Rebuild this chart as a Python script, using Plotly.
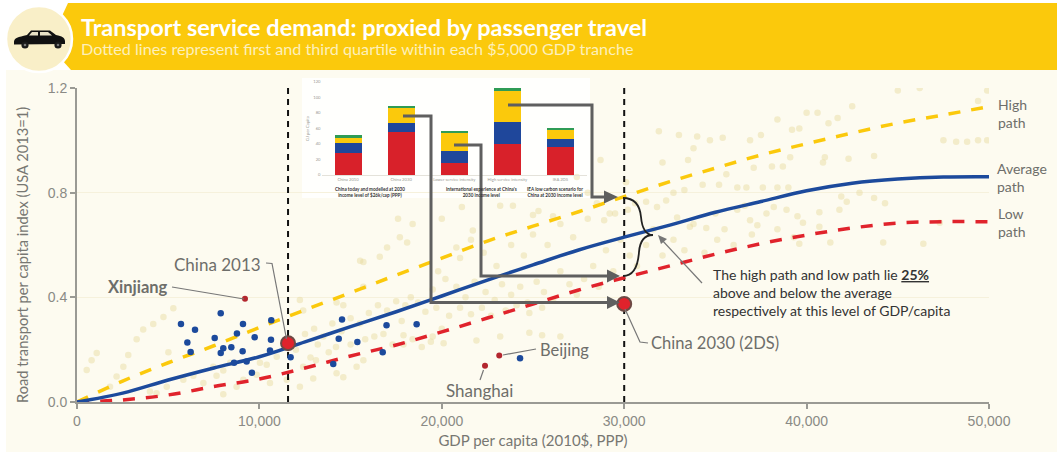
import plotly.graph_objects as go

W, H = 1057, 454

# ---- main chart data ----
path_gdp = [0, 2500, 5000, 7500, 10000, 12500, 15000, 17500, 20000, 22500, 25000,
            27500, 30000, 32500, 35000, 37500, 40000, 42500, 45000, 47500, 50000]
high_path = [0, .08, .15, .215, .285, .352, .418, .485, .55, .615, .672,
             .727, .785, .842, .894, .944, .987, 1.028, 1.066, 1.097, 1.129]
average_path = [0, .034, .084, .13, .173, .23, .288, .345, .405, .466, .524,
                .581, .63, .676, .725, .766, .807, .836, .852, .86, .861]
low_path = [0, .008, .027, .059, .088, .13, .176, .218, .268, .321, .374,
            .428, .475, .52, .565, .605, .638, .665, .684, .689, .689]

province_gdp = [5700, 6470, 7880, 9100, 10650, 8770, 7550, 9740, 10635, 6050, 6230, 8020,
                8460, 7880, 9080, 10580, 8610, 9300, 9590, 11710, 14530, 14350, 15370,
                14050, 16970, 18620, 16760, 24290]
province_index = [.298, .276, .339, .298, .312, .262, .245, .247, .238, .227, .191, .205,
                  .209, .187, .194, .197, .150, .155, .112, .171, .315, .242, .229,
                  .145, .293, .297, .190, .167]
named_gdp = [9210, 23150, 22370]
named_index = [.395, .178, .139]
china_gdp = [11570, 30000]
china_index = [.225, .375]
marker_gdp = [11570, 30000]

pale_gdp = [45000, 46200, 49900, 49400, 42500, 40000, 40600, 38400, 41700, 41200, 39200, 39600,
            37500, 31900, 33000, 34000, 34700, 35400, 36900, 47500, 48200, 48800, 49400, 49900,
            33800, 33500, 32100, 28700, 41000, 40900, 42300, 43700, 39100, 38100, 38700, 37100,
            35600, 34300, 36200, 36700, 37600, 38400, 39000, 32700, 33300, 35200,
            41900, 42200, 42900, 43700, 44300, 41800, 40700, 39500, 38900, 38200, 36900, 37300,
            36200, 39800, 40700, 38400, 39300, 41300, 44200, 46400, 47300, 39600, 35100, 34500,
            33600, 32900, 31800, 31200, 28900, 29500, 30200, 30600, 32300,
            19500, 20200, 20800, 21300, 21800, 22400, 22900, 23300, 23800, 24300, 24700, 25200,
            25600, 26100, 26500, 27000, 27400, 27800, 28300, 28600, 29000, 29400, 29800, 30300,
            30700, 31200, 31600, 32100, 32700, 33300, 33800, 34400, 35000, 35500, 36000, 36600,
            37000, 37800, 18700, 19100, 19700, 20400, 21000, 21600, 22200, 22700, 23500, 24100,
            24800, 25500, 16000, 16500, 17000, 17500, 18000, 18300, 15000, 15500, 13000, 13500,
            14000, 14500, 12500, 12000, 12800, 13200, 13800, 14200, 15000, 15800, 16300, 16800,
            17300, 17900, 18400, 18900, 19500, 20000, 17800, 21000, 21600, 22300, 23000, 23800,
            24500, 25000, 25800, 26500, 27200, 28000, 20800, 19800, 26100, 25300, 28500, 29200,
            30100, 28000, 27400, 15700, 16600, 17000, 17600, 18400, 17700, 18100, 20000, 21100,
            21700, 23200, 23900, 25000, 17900, 19400, 20100, 21900, 23200, 24800, 25500, 26500,
            530, 800, 1080, 1810, 2170, 2540, 2810, 3270, 3630, 4180, 4740, 5280, 4360, 4000,
            4920, 5830, 6380, 6930, 7650, 8020, 8020, 8750, 9120, 9850, 10400, 10950, 10580,
            11500, 12400, 13100, 12220, 12950, 14230, 14600, 15330, 15700, 15700, 15520, 14230,
            14600, 12220, 12400, 5010, 7470, 8400, 10030]
pale_index = [1.19, 1.2, 1.19, 1.15, 1.13, 1.105, 1.105, 1.08, 1.085, 1.065, 1.04, 1.045,
              1.02, 1.035, 1.02, 1.015, 1.0, 1.01, 1.0, 1.0, .995, .995, 1.0, 1.0,
              .97, .925, .915, .925, .935, .915, .93, .94, .935, .9, .9, .895,
              .87, .83, .82, .82, .82, .82, .82, .8, .81, .83,
              .785, .765, .8, .78, .76, .735, .725, .71, .735, .745, .695, .675,
              .735, .685, .67, .66, .63, .61, .61, .605, .685, .605, .62, .665,
              .67, .705, .745, .765, .695, .72, .735, .76, .77,
              .43, .47, .44, .40, .46, .42, .39, .45, .41, .44, .38, .46,
              .42, .39, .50, .45, .41, .47, .52, .44, .58, .50, .62, .56,
              .52, .60, .66, .56, .62, .58, .68, .57, .72, .66, .60, .75,
              .64, .72, .38, .345, .36, .33, .36, .335, .36, .33, .35, .37,
              .34, .36, .34, .37, .35, .385, .37, .40, .32, .30, .28, .25,
              .30, .27, .26, .20, .17, .22, .19, .21, .22, .24, .25, .26,
              .22, .22, .24, .21, .25, .28, .31, .55, .62, .57, .52, .60,
              .56, .64, .60, .68, .63, .70, .59, .50, .71, .73, .76, .72,
              .84, .80, .86, .535, .555, .59, .70, .68, .63, .61, .70, .745,
              .655, .75, .75, .715, .255, .23, .225, .235, .25, .265, .255, .25,
              .122, .16, .187, .058, .097, .135, .18, .24, .277, .298, .325, .358, .033, .04,
              .058, .085, .10, .073, .10, .12, .03, .058, .085, .104, .142, .173, .073,
              .085, .135, .16, .058, .09, .11, .095, .135, .16, .44, .54, .38,
              .37, .39, .35, .19, .135, .15, .15]

y_ticks = [0, .4, .8, 1.2]
x_ticks = [0, 10000, 20000, 30000, 40000, 50000]

# ---- inset data ----
inset_categories = ["China 2010", "China 2030", "Lower service intensity", "High service intensity", "IEA 2DS"]
inset_red = [29, 55, 16, 40, 36]
inset_blue = [12, 12, 15, 29, 11]
inset_yellow = [8, 19, 23, 39, 11]
inset_green = [2, 3, 3, 4, 3]

YELLOW = "#fbc90c"
BLUE = "#1c4a9c"
RED = "#e0232c"
GREY = "#5f5f5f"
TXT = "#6e6e6a"
CREAM = "#fdfbf0"
FONT = "Lato, sans-serif"


def fx(px):
    return px / W


def fy(py):
    return 1 - py / H


def path(*cmds):
    """Decoration path given in page pixels: ('M',x,y), ('L',x,y), ('C',x1,y1,x2,y2,x,y), ('Z',)."""
    out = []
    for c in cmds:
        vals = []
        for i, v in enumerate(c[1:]):
            vals.append(f"{fx(v) if i % 2 == 0 else fy(v):.5f}")
        out.append(c[0] + " " + " ".join(vals))
    return " ".join(out)


def deco(d, fill=None, line=None, width=0, layer="above"):
    s = dict(type="path", xref="paper", yref="paper", path=d, layer=layer,
             line=dict(color=line or "rgba(0,0,0,0)", width=width))
    if fill:
        s["fillcolor"] = fill
    return s


def poly(pts, close=False, **kw):
    cmds = [("M", *pts[0])] + [("L", *p) for p in pts[1:]]
    if close:
        cmds.append(("Z",))
    return deco(path(*cmds), **kw)


def circle(cx, cy, r, fill, line=None, width=0, layer="above"):
    return dict(type="circle", xref="paper", yref="paper", x0=fx(cx - r), x1=fx(cx + r),
                y0=fy(cy + r), y1=fy(cy - r), fillcolor=fill, layer=layer,
                line=dict(color=line or "rgba(0,0,0,0)", width=width))


def rect(x0, y0, x1, y1, fill, layer="below"):
    return dict(type="rect", xref="paper", yref="paper", x0=fx(x0), x1=fx(x1), y0=fy(y1), y1=fy(y0),
                fillcolor=fill, layer=layer, line=dict(width=0))


def label(text, px, py, size=14, color=TXT, anchor="left", family=FONT):
    return dict(text=text, x=fx(px), y=fy(py), xref="paper", yref="paper", showarrow=False,
                xanchor=anchor, yanchor="middle", align=anchor,
                font=dict(size=size, color=color, family=family))


fig = go.Figure()

# pale background cloud
fig.add_trace(go.Scatter(x=pale_gdp, y=pale_index, mode="markers", hoverinfo="skip",
                         marker=dict(size=6.5, color="#e6da9c", opacity=0.45, line=dict(width=0))))

# vertical reference lines
for g in marker_gdp:
    fig.add_trace(go.Scatter(x=[g, g], y=[0, 1.2], mode="lines", hoverinfo="skip",
                             line=dict(color="#111111", width=2, dash="6px,5px")))

# paths
fig.add_trace(go.Scatter(x=path_gdp, y=high_path, mode="lines", name="High path",
                         line=dict(color=YELLOW, width=3.5, dash="12px,11px", shape="spline")))
fig.add_trace(go.Scatter(x=path_gdp, y=low_path, mode="lines", name="Low path",
                         line=dict(color=RED, width=3.5, dash="12px,11px", shape="spline")))
fig.add_trace(go.Scatter(x=path_gdp, y=average_path, mode="lines", name="Average path",
                         line=dict(color=BLUE, width=3.5, shape="spline")))

# provinces
fig.add_trace(go.Scatter(x=province_gdp, y=province_index, mode="markers",
                         marker=dict(size=6.5, color=BLUE, line=dict(width=0))))
fig.add_trace(go.Scatter(x=named_gdp, y=named_index, mode="markers",
                         marker=dict(size=6, color="#b3262e", line=dict(width=0))))
fig.add_trace(go.Scatter(x=china_gdp, y=china_index, mode="markers",
                         marker=dict(size=14, color=RED, line=dict(color="#6d4a45", width=2))))

# inset
for vals, col in [(inset_red, "#d8212a"), (inset_blue, "#1f479b"),
                  (inset_yellow, "#fbc90c"), (inset_green, "#2f9c55")]:
    fig.add_trace(go.Bar(x=inset_categories, y=vals, marker=dict(color=col, line=dict(width=0)),
                         xaxis="x2", yaxis="y2", width=0.51))

shapes = [
    rect(0, 0, W, H, "#ffffff"),
    rect(6, 70, W, 452, CREAM),
    rect(302, 78, 590, 198, "#fffffd"),
    # banner
    poly([(68, 3), (W, 3), (W, 70), (71, 70), (62, 60), (62, 16)], close=True, fill=YELLOW, layer="below"),
    circle(39, 39, 33, "#f9efc8", line="#ffffff", width=2.5, layer="above"),
    # car
    deco(path(("M", 14, 42), ("C", 14, 38, 18, 37, 27, 35), ("L", 31, 30.5), ("L", 50, 30.5),
              ("L", 56, 35), ("C", 62, 36, 65, 38, 65, 41), ("L", 65, 44), ("L", 14, 44.5), ("Z",)),
         fill="#111111"),
    poly([(32, 32), (38, 32), (38, 35.5), (29, 35.5)], close=True, fill="#e9e2c6"),
    poly([(40, 32), (48, 32), (52, 35.5), (40, 35.5)], close=True, fill="#e9e2c6"),
    circle(25, 45, 3.6, "#1a1a1a"),
    circle(58, 45, 3.6, "#1a1a1a"),
    circle(25, 45, 1.3, "#777777"),
    circle(58, 45, 1.3, "#777777"),
    # inset elbow arrows
    poly([(403, 116), (431, 116), (431, 302.5), (611, 302.5)], line=GREY, width=3),
    poly([(454, 145), (481, 145), (481, 276), (611, 276)], line=GREY, width=3),
    poly([(508, 105), (592, 105), (592, 197), (608, 197)], line=GREY, width=3),
    poly([(607, 296), (620, 302.5), (607, 309)], close=True, fill=GREY),
    poly([(607, 269.5), (620, 276), (607, 282.5)], close=True, fill=GREY),
    poly([(604, 190.5), (618, 197), (604, 203.5)], close=True, fill=GREY),
    # brace
    deco(path(("M", 623, 198), ("C", 635, 198, 640, 206, 641, 217), ("C", 642, 228, 645, 235, 653, 235),
              ("C", 645, 235, 640, 240, 639, 252), ("C", 638, 266, 633, 276, 623, 276)),
         line="#222222", width=1.8),
    # leader lines
    poly([(172, 287), (244, 299)], line="#777777", width=1.2),
    poly([(266, 263), (272, 263.5), (286.5, 339)], line="#777777", width=1.2),
    poly([(503, 355), (536, 349)], line="#777777", width=1.2),
    poly([(483.5, 370), (480, 380)], line="#777777", width=1.2),
    poly([(625, 309), (640, 342), (648, 343)], line="#777777", width=1.2),
    poly([(702, 283), (661, 239)], line="#777777", width=1.2),
    poly([(658, 235), (667, 239), (661, 244)], close=True, fill="#777777"),
]

y_title = label("Road transport per capita index (USA 2013=1)", 22, 255, size=14.7, color="#777772", anchor="center")
y_title["textangle"] = -90

annotations = [
    label("<b>Transport service demand: proxied by passenger travel</b>", 79, 27, size=23.5, color="#ffffff"),
    label("Dotted lines represent first and third quartile within each $5,000 GDP tranche", 79, 48, size=16.2, color="#fdf0bb"),
    label("High<br>path", 996, 113, size=14),
    label("Average<br>path", 995, 177, size=14),
    label("Low<br>path", 996, 223, size=14),
    label("China 2013", 172, 264, size=17),
    label("<b>Xinjiang</b>", 106, 287, size=16.5),
    label("Beijing", 538, 350, size=16.5),
    label("Shanghai", 444, 390, size=17),
    label("China 2030 (2DS)", 649, 343, size=16.5),
    label("The high path and low path lie <b><u>25%</u></b><br>above and below the average<br>respectively at this level of GDP/capita",
          711, 292, size=14, color="#333333"),
    label("<b>China today and modelled at 2030<br>income level of $26k/cap (PPP)</b>", 370, 192, size=4.6, color="#333333", anchor="center"),
    label("<b>International experience at China's<br>2030 income level</b>", 481, 192, size=4.6, color="#333333", anchor="center"),
    label("<b>IEA low carbon scenario for<br>China at 2030 income level</b>", 555, 192, size=4.6, color="#333333", anchor="center"),
    y_title,
]

axis_line = dict(showline=True, linecolor="#9a9a94", linewidth=2, ticks="outside", ticklen=5,
                 tickcolor="#9a9a94", tickwidth=1.5, automargin=False,
                 tickfont=dict(size=14, color="#8a8a85", family="Liberation Sans, sans-serif"),
                 zeroline=False)

fig.update_layout(
    template="none",
    width=W, height=H, autosize=False,
    margin=dict(l=0, r=0, t=0, b=0, pad=0),
    paper_bgcolor="#ffffff", plot_bgcolor="rgba(0,0,0,0)",
    showlegend=False, barmode="stack",
    shapes=shapes, annotations=annotations,
    xaxis=dict(domain=[fx(77), fx(989)], range=[0, 50000], tickvals=x_ticks, tickformat=",d",
               showgrid=False,
               title=dict(text="GDP per capita (2010$, PPP)", standoff=8,
                          font=dict(size=15, color="#777772", family=FONT)), **axis_line),
    yaxis=dict(domain=[fy(402), fy(88)], range=[0, 1.2], tickvals=y_ticks, tickformat=".1f",
               showgrid=True, gridcolor="#f6f1dc", gridwidth=1, **axis_line),
    xaxis2=dict(domain=[fx(321.5), fx(587)], anchor="y2", showline=True, linecolor="#e4e2da", linewidth=1,
                ticks="", tickfont=dict(size=4.2, color="#9a9a94", family=FONT), showgrid=False,
                fixedrange=True, automargin=False),
    yaxis2=dict(domain=[fy(175), fy(82)], anchor="x2", range=[0, 120], tickvals=[0, 20, 40, 60, 80, 100, 120],
                showline=False, ticks="", showgrid=False, zeroline=False, automargin=False,
                tickfont=dict(size=4.2, color="#9a9a94", family=FONT),
                title=dict(text="GJ per Capita", font=dict(size=4.2, color="#9a9a94", family=FONT), standoff=3),
                fixedrange=True),
)

fig.write_html("out.html", config=dict(displayModeBar=False),
               post_script="document.body.style.margin='0';document.body.style.overflow='hidden';")
